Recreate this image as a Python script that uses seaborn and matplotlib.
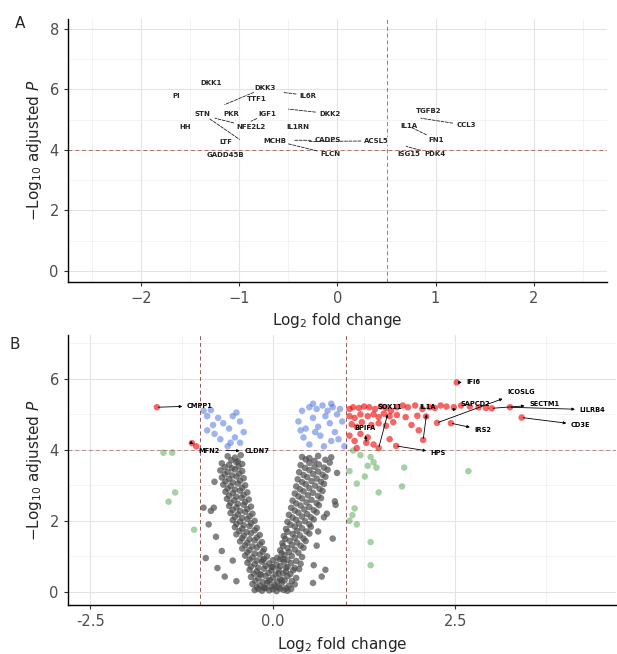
import numpy as np
import pandas as pd
import matplotlib
matplotlib.use("Agg")
import matplotlib.pyplot as plt
from matplotlib.ticker import MultipleLocator, FormatStrFormatter
import seaborn as sns

# --- panel A : labelled genes only (text pos, connector end) ---
a_names = ["DKK1", "DKK3", "IL6R", "PI", "TTF1", "STN", "PKR", "IGF1", "DKK2",
           "HH", "NFE2L2", "IL1RN", "LTF", "MCHB", "CADPS", "ACSL5", "GADD45B",
           "FLCN", "TGFB2", "CCL3", "IL1A", "FN1", "ISG15", "PDK4"]
a_tx = [-1.29, -0.74, -0.30, -1.65, -0.82, -1.38, -1.08, -0.72, -0.08,
        -1.55, -0.88, -0.40, -1.14, -0.64, -0.10, 0.40, -1.14,
        -0.07, 0.93, 1.31, 0.73, 1.01, 0.73, 0.99]
a_ty = [6.22, 6.06, 5.80, 5.78, 5.68, 5.20, 5.20, 5.20, 5.20,
        4.75, 4.75, 4.75, 4.27, 4.30, 4.32, 4.30, 3.82,
        3.86, 5.28, 4.82, 4.78, 4.34, 3.86, 3.86]
a_px = [None, -1.15, -0.55, None, None, -1.00, None, -0.88, -0.50,
        None, -1.25, None, None, None, -0.45, -0.30, None,
        -0.50, None, 0.85, None, 0.75, None, 0.70]
a_py = [None, 5.50, 5.90, None, None, 4.35, None, 4.95, 5.35,
        None, 5.05, None, None, None, 4.32, 4.28, None,
        4.20, None, 5.05, None, 4.75, None, 4.12]

# --- panel B : points by category ---
grey_x = [-0.25, -0.20, -0.15, -0.10, -0.05, 0.00, 0.05, 0.10, 0.15, 0.20, 0.25,
          -0.28, -0.18, -0.08, 0.02, 0.12, 0.22, 0.30,
          -0.30, -0.20, -0.10, 0.00, 0.10, 0.20, 0.32, -0.66, 0.67,
          -0.32, -0.22, -0.12, -0.02, 0.08, 0.18, 0.28, 0.36,
          -0.35, -0.25, -0.15, -0.05, 0.05, 0.15, 0.25, 0.38, -0.55, 0.56,
          -0.38, -0.28, -0.18, -0.08, 0.06, 0.16, 0.26, 0.40,
          -0.42, -0.32, -0.22, -0.12, 0.10, 0.20, 0.30, 0.42, 0.60, -0.70,
          -0.45, -0.35, -0.25, -0.15, 0.13, 0.23, 0.33, 0.45,
          -0.50, -0.40, -0.30, -0.18, 0.15, 0.27, 0.37, 0.50, -0.78, 0.62,
          -0.52, -0.42, -0.32, -0.22, 0.18, 0.30, 0.40, 0.52,
          -0.55, -0.45, -0.35, -0.25, 0.20, 0.32, 0.44, 0.56, 0.70,
          -0.58, -0.48, -0.38, -0.28, 0.22, 0.35, 0.47, 0.60, 0.74, -0.85,
          -0.60, -0.50, -0.40, -0.30, 0.25, 0.38, 0.50, 0.63, -0.95, -0.81,
          -0.63, -0.53, -0.43, -0.33, 0.27, 0.40, 0.53, 0.66, 0.85,
          -0.65, -0.55, -0.45, -0.35, 0.30, 0.42, 0.55, 0.68,
          -0.68, -0.58, -0.48, -0.38, 0.32, 0.45, 0.58, 0.70, -0.80,
          -0.70, -0.60, -0.50, -0.40, 0.34, 0.47, 0.60, 0.72,
          -0.72, -0.62, -0.52, -0.42, 0.36, 0.50, 0.62, 0.75, 0.88,
          -0.70, -0.60, -0.50, -0.42, 0.38, 0.50, 0.63, 0.78,
          -0.62, -0.52, -0.44, 0.40, 0.50, 0.62, 0.80,
          -0.12, 0.04, -0.06, 0.12, -0.18, 0.08, -0.02, 0.18, -0.14, 0.14]
grey_y = [0.05, 0.08, 0.03, 0.10, 0.04, 0.07, 0.02, 0.09, 0.05, 0.03, 0.08,
          0.22, 0.18, 0.25, 0.20, 0.24, 0.17, 0.21,
          0.42, 0.38, 0.45, 0.40, 0.36, 0.44, 0.39, 0.43, 0.43,
          0.62, 0.58, 0.65, 0.60, 0.63, 0.57, 0.61, 0.64,
          0.82, 0.78, 0.85, 0.80, 0.77, 0.84, 0.81, 0.79, 0.88, 0.75,
          1.02, 0.97, 1.05, 1.00, 0.96, 1.04, 1.01, 0.98,
          1.22, 1.18, 1.25, 1.20, 1.17, 1.23, 1.19, 1.24, 1.30, 1.15,
          1.42, 1.38, 1.45, 1.40, 1.37, 1.44, 1.39, 1.43,
          1.62, 1.58, 1.65, 1.60, 1.57, 1.63, 1.59, 1.64, 1.55, 1.70,
          1.82, 1.78, 1.85, 1.80, 1.77, 1.84, 1.79, 1.83,
          2.02, 1.98, 2.05, 2.00, 1.97, 2.03, 1.99, 2.04, 2.10,
          2.22, 2.18, 2.25, 2.20, 2.17, 2.23, 2.19, 2.24, 2.20, 2.28,
          2.42, 2.38, 2.45, 2.40, 2.37, 2.43, 2.39, 2.44, 2.37, 2.37,
          2.62, 2.58, 2.65, 2.60, 2.57, 2.63, 2.59, 2.64, 2.55,
          2.82, 2.78, 2.85, 2.80, 2.77, 2.83, 2.79, 2.84,
          3.02, 2.98, 3.05, 3.00, 2.97, 3.03, 2.99, 3.04, 3.10,
          3.22, 3.18, 3.25, 3.20, 3.17, 3.23, 3.19, 3.24,
          3.42, 3.38, 3.45, 3.40, 3.37, 3.43, 3.39, 3.44, 3.35,
          3.62, 3.58, 3.65, 3.60, 3.57, 3.63, 3.59, 3.64,
          3.82, 3.78, 3.85, 3.80, 3.77, 3.83, 3.79,
          0.12, 0.14, 0.30, 0.32, 0.50, 0.52, 0.70, 0.68, 0.90, 0.92]

# second, offset layer of non-significant genes (the dense V)
grey2_x = [-0.22, -0.12, -0.02, 0.08, 0.18,
           -0.24, -0.14, -0.04, 0.06, 0.16, 0.26,
           -0.26, -0.16, -0.06, 0.04, 0.14, 0.24,
           -0.30, -0.20, -0.10, 0.00, 0.10, 0.20, 0.30,
           -0.32, -0.22, -0.12, 0.00, 0.10, 0.20, 0.32,
           -0.35, -0.25, -0.14, 0.12, 0.22, 0.35,
           -0.38, -0.28, -0.18, 0.14, 0.26, 0.38,
           -0.42, -0.32, -0.22, 0.17, 0.30, 0.42,
           -0.46, -0.36, -0.25, 0.20, 0.33, 0.46,
           -0.50, -0.40, -0.30, 0.24, 0.36, 0.50,
           -0.52, -0.42, -0.32, 0.27, 0.40, 0.52,
           -0.55, -0.45, -0.35, 0.30, 0.43, 0.56,
           -0.58, -0.48, -0.38, 0.32, 0.46, 0.60,
           -0.60, -0.50, -0.40, 0.35, 0.48, 0.62,
           -0.62, -0.52, -0.42, 0.37, 0.50, 0.64,
           -0.65, -0.55, -0.45, 0.40, 0.53, 0.66,
           -0.66, -0.56, -0.46, 0.42, 0.55, 0.68,
           -0.66, -0.56, -0.47, 0.44, 0.57, 0.70,
           -0.57, -0.48, 0.45, 0.57, 0.72,
           -0.76, 0.72, 0.55, -0.50, -0.88, 0.82, 0.86, -0.92]
grey2_y = [0.13, 0.11, 0.14, 0.12, 0.10,
           0.31, 0.28, 0.33, 0.29, 0.32, 0.30,
           0.51, 0.48, 0.53, 0.49, 0.52, 0.50,
           0.71, 0.68, 0.73, 0.69, 0.72, 0.70, 0.67,
           0.91, 0.88, 0.93, 0.89, 0.92, 0.90, 0.87,
           1.11, 1.08, 1.13, 1.09, 1.12, 1.10,
           1.31, 1.28, 1.33, 1.29, 1.32, 1.30,
           1.51, 1.48, 1.53, 1.49, 1.52, 1.50,
           1.71, 1.68, 1.73, 1.69, 1.72, 1.70,
           1.91, 1.88, 1.93, 1.89, 1.92, 1.90,
           2.11, 2.08, 2.13, 2.09, 2.12, 2.10,
           2.31, 2.28, 2.33, 2.29, 2.32, 2.30,
           2.51, 2.48, 2.53, 2.49, 2.52, 2.50,
           2.71, 2.68, 2.73, 2.69, 2.72, 2.70,
           2.91, 2.88, 2.93, 2.89, 2.92, 2.90,
           3.11, 3.08, 3.13, 3.09, 3.12, 3.10,
           3.31, 3.28, 3.33, 3.29, 3.32, 3.30,
           3.51, 3.48, 3.53, 3.49, 3.52, 3.50,
           3.71, 3.68, 3.73, 3.69, 3.72,
           0.67, 0.62, 0.25, 0.30, 1.90, 1.50, 2.45, 0.95]

blue_x = [-0.95, -0.90, -0.85, -0.82, -0.75, -0.68, -0.60, -0.55, -0.50, -0.45,
          -0.52, -0.45, -0.62, -0.72, -0.80, -0.90, -0.40, -0.58,
          0.35, 0.40, 0.45, 0.50, 0.55, 0.60, 0.62, 0.68, 0.72, 0.75, 0.78,
          0.82, 0.85, 0.88, 0.90, 0.92, 0.95, 0.98, 0.42, 0.50, 0.65, 0.70,
          0.80, 0.58, 0.38, 0.55, 0.80]
blue_y = [5.10, 4.95, 5.12, 4.70, 4.90, 4.75, 4.60, 4.95, 5.05, 4.80,
          4.35, 4.20, 4.10, 4.30, 4.45, 4.55, 4.50, 4.20,
          4.80, 5.10, 4.60, 5.20, 4.90, 5.15, 4.65, 5.25, 4.95, 5.10, 4.75,
          5.20, 4.50, 5.00, 4.30, 5.15, 4.80, 4.10, 4.35, 4.15, 4.40, 4.10,
          4.25, 4.50, 4.55, 5.30, 5.30]

red_x = [1.05, 1.10, 1.18, 1.25, 1.32, 1.40, 1.48, 1.55, 1.62, 1.70, 1.78, 1.85,
         1.95, 2.05, 2.15, 2.22, 2.30, 2.38, 2.48, 2.58, 2.70, 2.82, 2.92,
         1.05, 1.12, 1.20, 1.30, 1.38, 1.45, 1.52, 1.60, 1.70, 1.82, 1.98, 2.10,
         1.08, 1.15, 1.22, 1.35, 1.45, 1.55, 1.65, 1.90, 2.25, 2.44, 2.00,
         1.05, 1.12, 1.20, 1.30, 1.38, 1.45, 1.60, 2.06, 1.69, 1.28, 1.15,
         2.52, 3.00, 3.41, 3.25, -1.59, -1.11, -1.05]
red_y = [5.15, 5.20, 5.18, 5.22, 5.20, 5.15, 5.22, 5.18, 5.10, 5.20, 5.25, 5.20,
         5.25, 5.15, 5.20, 5.18, 5.25, 5.22, 5.20, 5.25, 5.22, 5.20, 5.18,
         4.95, 4.90, 5.00, 4.95, 5.00, 4.92, 5.02, 4.95, 4.98, 4.92, 4.96, 4.94,
         4.72, 4.65, 4.78, 4.70, 4.75, 4.68, 4.78, 4.70, 4.76, 4.75, 4.55,
         4.40, 4.25, 4.45, 4.35, 4.15, 4.05, 4.30, 4.28, 4.11, 4.20, 4.05,
         5.90, 5.17, 4.91, 5.20, 5.20, 4.19, 4.10]

green_x = [-1.50, -1.38, -1.34, -1.43, -1.08, 1.10, 1.20, 1.34, 1.38, 1.42, 1.30,
           1.26, 1.05, 1.09, 1.12, 1.05, 1.15, 1.34, 1.34, 1.77, 1.80, 2.68,
           1.15, 1.45]
green_y = [3.92, 3.92, 2.80, 2.54, 1.75, 3.98, 3.85, 3.80, 3.65, 3.50, 3.55,
           3.25, 3.40, 2.16, 2.35, 2.00, 1.90, 1.40, 0.75, 2.97, 3.50, 3.40,
           3.05, 2.80]

# --- panel B : labels (text pos, connector start point) ---
b_names = ["CMPP1", "MFN2", "CLDN7", "SOX11", "IL1A", "BPIFA", "IFI6", "ICOSLG",
           "SAPCD2", "SECTM1", "LILRB4", "CD3E", "IRS2", "HPS"]
b_tx = [-1.00, -0.88, -0.22, 1.60, 2.12, 1.26, 2.75, 3.40,
        2.78, 3.72, 4.38, 4.22, 2.88, 2.27]
b_ty = [5.24, 3.98, 3.97, 5.22, 5.22, 4.62, 5.90, 5.63,
        5.30, 5.28, 5.13, 4.70, 4.56, 3.92]
b_px = [-1.59, -1.11, -0.66, 1.45, 2.06, 1.28, 2.52, 2.25,
        2.45, 3.00, 3.25, 3.41, 2.44, 1.69]
b_py = [5.20, 4.19, 3.98, 4.05, 4.28, 4.20, 5.90, 4.76,
        5.12, 5.17, 5.20, 4.91, 4.75, 4.11]

CAT_COLORS = {"NS": "#4d4d4d", "Log2 FC": "#228b22",
              "p-value": "#4169e1", "p-value and log2 FC": "#ee0000"}
CAT_ALPHA = {"NS": 0.7, "Log2 FC": 0.4, "p-value": 0.5, "p-value and log2 FC": 0.6}

df_b = pd.concat([
    pd.DataFrame({"x": grey_x + grey2_x, "y": grey_y + grey2_y, "cat": "NS"}),
    pd.DataFrame({"x": green_x, "y": green_y, "cat": "Log2 FC"}),
    pd.DataFrame({"x": blue_x, "y": blue_y, "cat": "p-value"}),
    pd.DataFrame({"x": red_x, "y": red_y, "cat": "p-value and log2 FC"}),
], ignore_index=True)

sns.set_theme(style="white")
plt.rcParams["font.family"] = ["DejaVu Sans"]

fig = plt.figure(figsize=(6.17, 6.54), dpi=100)
axA = fig.add_axes([0.110, 0.569, 0.874, 0.402])
axB = fig.add_axes([0.110, 0.075, 0.888, 0.413])

YLAB = r"$-\mathrm{Log}_{10}$ adjusted $\it{P}$"
XLAB = r"$\mathrm{Log}_{2}$ fold change"


def style_axes(ax):
    ax.grid(True, which="major", color="#e3e3e3", lw=0.8)
    ax.grid(True, which="minor", color="#efefef", lw=0.5)
    ax.set_axisbelow(True)
    for s in ["top", "right"]:
        ax.spines[s].set_visible(False)
    for s in ["left", "bottom"]:
        ax.spines[s].set_color("black")
        ax.spines[s].set_linewidth(1.0)
    ax.tick_params(axis="both", which="major", length=3, width=0.8, color="#333333",
                   labelsize=10.5, labelcolor="#4d4d4d", direction="out",
                   left=True, bottom=True)
    ax.tick_params(which="minor", length=0)
    ax.set_xlabel(XLAB, fontsize=11, labelpad=4)
    ax.set_ylabel(YLAB, fontsize=11, labelpad=4)


# ---------------- Panel A ----------------
axA.set_xlim(-2.75, 2.75)
axA.set_ylim(-0.36, 8.33)
axA.xaxis.set_major_locator(MultipleLocator(1))
axA.xaxis.set_minor_locator(MultipleLocator(0.5))
axA.yaxis.set_major_locator(MultipleLocator(2))
axA.yaxis.set_minor_locator(MultipleLocator(1))
style_axes(axA)
axA.axvline(0.5, color="#a05050", ls=(0, (4, 3)), lw=0.7, alpha=0.8)
axA.axhline(4, color="#a05050", ls=(0, (4, 3)), lw=0.7, alpha=0.8)

for name, tx, ty, px, py in zip(a_names, a_tx, a_ty, a_px, a_py):
    box = dict(boxstyle="square,pad=0.1", fc="white", ec="none", alpha=0.8)
    if px is None:
        axA.text(tx, ty, name, fontsize=5, fontweight="bold", ha="center",
                 va="center", bbox=box)
    else:
        axA.annotate(name, xy=(px, py), xytext=(tx, ty), fontsize=5,
                     fontweight="bold", ha="center", va="center", bbox=box,
                     arrowprops=dict(arrowstyle="-", ls="--", lw=0.6,
                                     color="#222222", shrinkA=2, shrinkB=0))

# ---------------- Panel B ----------------
for cat in ["NS", "Log2 FC", "p-value", "p-value and log2 FC"]:
    sub = df_b[df_b["cat"] == cat]
    sns.scatterplot(data=sub, x="x", y="y", ax=axB, color=CAT_COLORS[cat],
                    alpha=CAT_ALPHA[cat], s=22, edgecolor="none", legend=False)

axB.set_xlim(-2.81, 4.70)
axB.set_ylim(-0.37, 7.24)
axB.xaxis.set_major_locator(MultipleLocator(2.5))
axB.xaxis.set_minor_locator(MultipleLocator(1.25))
axB.yaxis.set_major_locator(MultipleLocator(2))
axB.yaxis.set_minor_locator(MultipleLocator(1))
axB.xaxis.set_major_formatter(FormatStrFormatter("%.1f"))
style_axes(axB)
axB.axvline(-1, color="#803030", ls=(0, (4, 3)), lw=0.7, alpha=0.8)
axB.axvline(1, color="#803030", ls=(0, (4, 3)), lw=0.7, alpha=0.8)
axB.axhline(4, color="#a05050", ls=(0, (4, 3)), lw=0.7, alpha=0.6)

for name, tx, ty, px, py in zip(b_names, b_tx, b_ty, b_px, b_py):
    axB.annotate(name, xy=(px, py), xytext=(tx, ty), fontsize=4.8,
                 fontweight="bold", ha="center", va="center", color="black",
                 arrowprops=dict(arrowstyle="<|-", lw=0.6, color="black",
                                 mutation_scale=4, shrinkA=1, shrinkB=1))

fig.text(20 / 617, 1 - 23 / 654, "A", fontsize=11, ha="center", va="center")
fig.text(15 / 617, 1 - 345 / 654, "B", fontsize=11, ha="center", va="center")

fig.savefig("out.png", dpi=100)
